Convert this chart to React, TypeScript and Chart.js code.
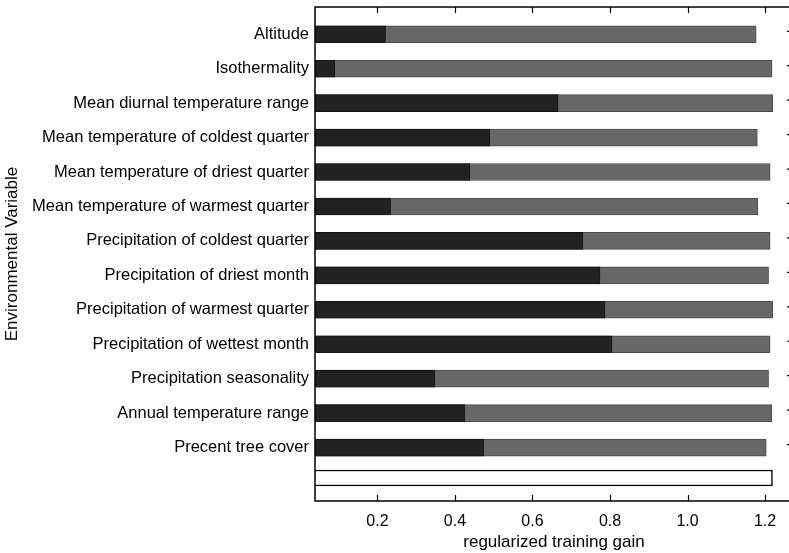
import React, { useEffect, useRef } from "react";
import { Chart, registerables } from "chart.js";

Chart.register(...registerables);

const variables = [
  "Altitude",
  "Isothermality",
  "Mean diurnal temperature range",
  "Mean temperature of coldest quarter",
  "Mean temperature of driest quarter",
  "Mean temperature of warmest quarter",
  "Precipitation of coldest quarter",
  "Precipitation of driest month",
  "Precipitation of warmest quarter",
  "Precipitation of wettest month",
  "Precipitation seasonality",
  "Annual temperature range",
  "Precent tree cover",
];

// regularized training gain with only this variable (dark bars)
const onlyGain = [0.221, 0.09, 0.666, 0.49, 0.438, 0.234, 0.73, 0.774, 0.787, 0.805, 0.348, 0.425, 0.474];
// regularized training gain without this variable (gray bars)
const withoutGain = [1.177, 1.218, 1.22, 1.18, 1.213, 1.181, 1.213, 1.209, 1.22, 1.213, 1.209, 1.217, 1.203];
// with all variables (white bar)
const allGain = 1.219;
const allRow = 13.885;

const xTicks = [0.2, 0.4, 0.6, 0.8, 1.0, 1.2];
const xMin = 0.039;
const xMax = 1.272;
const yMin = 0.208;
const yMax = 14.552;

const FONT = "'Liberation Sans', Arial, Helvetica, sans-serif";

const framePlugin = {
  id: "frame",
  afterDraw(chart: any) {
    const { ctx, chartArea, scales } = chart;
    const { left, right, top, bottom } = chartArea;
    const x = scales.x;
    const y = scales.y;
    ctx.save();
    ctx.strokeStyle = "#000";
    ctx.lineWidth = 1.5;
    ctx.strokeRect(left, top, right - left, bottom - top);
    ctx.lineWidth = 1.2;
    ctx.beginPath();
    for (const v of xTicks) {
      const px = Math.round(x.getPixelForValue(v)) + 0.5;
      ctx.moveTo(px, top);
      ctx.lineTo(px, top + 6);
      ctx.moveTo(px, bottom);
      ctx.lineTo(px, bottom - 6);
    }
    variables.forEach((_, i) => {
      const py = y.getPixelForValue(i + 1) - 3;
      ctx.moveTo(right, py);
      ctx.lineTo(right - 6, py);
    });
    ctx.stroke();
    ctx.restore();
  },
};

const noPad = (s: any) => {
  s.paddingTop = 0;
  s.paddingBottom = 0;
  s.paddingLeft = 0;
  s.paddingRight = 0;
};

export default function App() {
  const ref = useRef<HTMLCanvasElement>(null);

  useEffect(() => {
    if (!ref.current) return;
    const chart = new Chart(ref.current, {
      type: "bar",
      data: {
        datasets: [
          {
            label: "With only variable",
            data: variables.map((_, i) => ({ x: onlyGain[i], y: i + 1 })),
            backgroundColor: "#222222",
            borderColor: "#161616",
            borderWidth: 1,
            barThickness: 17,
          },
          {
            label: "Without variable",
            data: variables.map((_, i) => ({ x: withoutGain[i], y: i + 1 })),
            backgroundColor: "#676767",
            borderColor: "#4c4c4c",
            borderWidth: 1,
            barThickness: 17,
          },
          {
            label: "With all variables",
            data: [{ x: allGain, y: allRow }],
            backgroundColor: "#ffffff",
            borderColor: "#000000",
            borderWidth: 1.5,
            barThickness: 16,
          },
        ] as any,
      },
      options: {
        animation: false,
        responsive: false,
        devicePixelRatio: 1,
        indexAxis: "y",
        datasets: { bar: { grouped: false } } as any,
        layout: { padding: { top: 7, right: 7, left: 0, bottom: 0 } },
        plugins: { legend: { display: false }, tooltip: { enabled: false } },
        scales: {
          x: {
            type: "linear",
            position: "bottom",
            min: xMin,
            max: xMax,
            offset: false,
            beginAtZero: false,
            grid: { display: false, drawTicks: false, offset: false },
            border: { display: false },
            afterBuildTicks: (s: any) => {
              s.ticks = xTicks.map((v) => ({ value: v }));
            },
            afterFit: (s: any) => {
              s.height = 52;
              noPad(s);
            },
            ticks: {
              padding: 11,
              color: "#000",
              font: { family: FONT, size: 16 },
              maxRotation: 0,
              callback: (v: any) => Number(v).toFixed(1),
            },
            title: {
              display: true,
              text: "regularized training gain",
              color: "#000",
              font: { family: FONT, size: 17 },
              padding: { top: 0, bottom: 0 },
            },
          },
          y: {
            type: "linear",
            position: "left",
            reverse: true,
            min: yMin,
            max: yMax,
            offset: false,
            grid: { display: false, drawTicks: false, offset: false },
            border: { display: false },
            afterBuildTicks: (s: any) => {
              s.ticks = variables.map((_, i) => ({ value: i + 1 }));
            },
            afterFit: (s: any) => {
              s.width = 315;
              noPad(s);
            },
            ticks: {
              padding: 6,
              color: "#000",
              font: { family: FONT, size: 16.5 },
              autoSkip: false,
              callback: (v: any) => variables[Math.round(Number(v)) - 1] ?? "",
            },
            title: {
              display: true,
              text: "Environmental Variable",
              color: "#000",
              font: { family: FONT, size: 17 },
              padding: { top: 2, bottom: 0 },
            },
          },
        },
      },
      plugins: [framePlugin],
    });
    return () => chart.destroy();
  }, []);

  return (
    <div
      style={{
        position: "fixed",
        left: 0,
        top: 0,
        width: 789,
        height: 553,
        overflow: "hidden",
        background: "#fff",
      }}
    >
      <canvas ref={ref} width={800} height={553} style={{ width: 800, height: 553, display: "block" }} />
    </div>
  );
}
